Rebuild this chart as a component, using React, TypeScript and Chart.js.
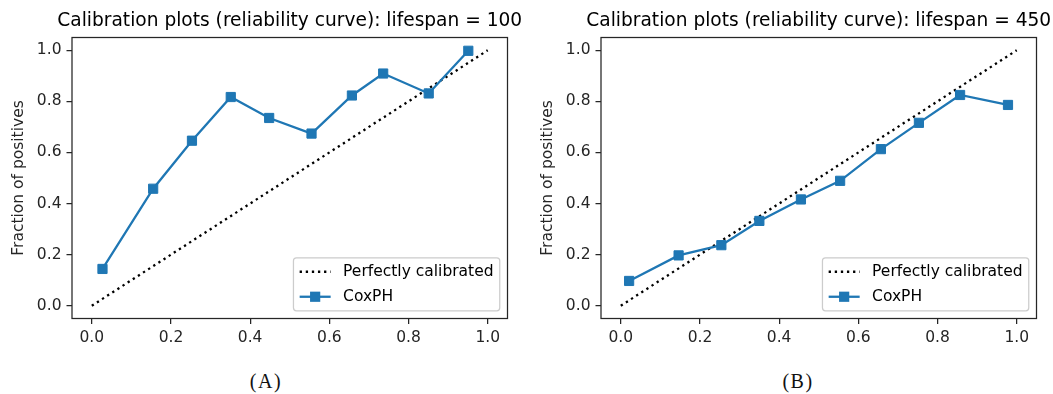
import React, { useEffect, useRef } from "react";
import { Chart, registerables } from "chart.js";

Chart.register(...registerables);

// Shared axis ticks and reference diagonal
const tickValues = [0, 0.2, 0.4, 0.6, 0.8, 1.0];
const diagonal = [0, 1];

// Panel A: lifespan = 100
const titleA = "Calibration plots (reliability curve): lifespan = 100";
const meanPredictedA = [0.027, 0.155, 0.253, 0.351, 0.448, 0.555, 0.657, 0.736, 0.851, 0.951];
const fractionPositivesA = [0.144, 0.458, 0.646, 0.817, 0.735, 0.674, 0.823, 0.909, 0.831, 0.998];

// Panel B: lifespan = 450
const titleB = "Calibration plots (reliability curve): lifespan = 450";
const meanPredictedB = [0.021, 0.146, 0.254, 0.35, 0.455, 0.554, 0.657, 0.753, 0.857, 0.978];
const fractionPositivesB = [0.097, 0.197, 0.237, 0.332, 0.416, 0.489, 0.613, 0.716, 0.825, 0.786];

const seriesLabel = "CoxPH";
const referenceLabel = "Perfectly calibrated";
const yAxisLabel = "Fraction of positives";

const BLUE = "#1f77b4";
const INK = "#262626";
const FONT = "DejaVu Sans";
const FONT_SIZE = 15.5;
const TITLE_SIZE = 18.6;
const LINE_W = 2.3;
const DOTS = [2.3, 3.8];

const CANVAS_W = 529;
const CANVAS_H = 350;
const PLOT_RIGHT = 507.5;

// Draws the axes frame, the panel title and a matplotlib-style legend box.
const panelDecor = {
  id: "panelDecor",
  afterDraw(chart: any, _args: any, opts: any) {
    const { ctx, chartArea: a } = chart;
    ctx.save();

    ctx.strokeStyle = INK;
    ctx.lineWidth = 1.25;
    ctx.strokeRect(a.left, a.top, a.right - a.left, a.bottom - a.top);

    ctx.fillStyle = "#000";
    ctx.font = `${TITLE_SIZE}px "${FONT}"`;
    ctx.textAlign = "center";
    ctx.textBaseline = "middle";
    ctx.fillText(opts.title, (a.left + a.right) / 2, opts.titleY);

    // legend
    const fs = FONT_SIZE;
    ctx.font = `${fs}px "${FONT}"`;
    const entries = [chart.data.datasets[1], chart.data.datasets[0]];
    const textW = Math.max(...entries.map((d: any) => ctx.measureText(d.label).width));
    const pad = 0.4 * fs;
    const handleLen = 2 * fs;
    const handleGap = 0.8 * fs;
    const boxW = pad + handleLen + handleGap + textW + pad;
    const boxH = 53;
    const right = a.right - 0.5 * fs;
    const bottom = a.bottom - 0.5 * fs;
    const left = right - boxW;
    const top = bottom - boxH;

    ctx.beginPath();
    ctx.roundRect(left, top, boxW, boxH, 3);
    ctx.fillStyle = "rgba(255,255,255,0.8)";
    ctx.fill();
    ctx.strokeStyle = "#cccccc";
    ctx.lineWidth = 1.25;
    ctx.stroke();

    const rowY = [top + 14, top + 39];
    entries.forEach((d: any, i: number) => {
      const y = rowY[i];
      const hx0 = left + pad;
      const hx1 = hx0 + handleLen;
      ctx.beginPath();
      ctx.setLineDash(d.borderDash || []);
      ctx.strokeStyle = d.borderColor;
      ctx.lineWidth = d.borderWidth;
      ctx.moveTo(hx0, y);
      ctx.lineTo(hx1, y);
      ctx.stroke();
      ctx.setLineDash([]);
      if (d.pointRadius > 0) {
        const s = 2 * Math.SQRT1_2 * d.pointRadius + d.pointBorderWidth;
        ctx.fillStyle = d.pointBackgroundColor;
        ctx.fillRect((hx0 + hx1) / 2 - s / 2, y - s / 2, s, s);
      }
      ctx.fillStyle = "#000";
      ctx.textAlign = "left";
      ctx.textBaseline = "middle";
      ctx.fillText(d.label, hx1 + handleGap, y);
    });

    ctx.restore();
  },
};

type PanelProps = { title: string; xs: number[]; ys: number[]; left: number };

function CalibrationPanel({ title, xs, ys, left }: PanelProps) {
  const ref = useRef<HTMLCanvasElement>(null);

  useEffect(() => {
    const canvas = ref.current;
    if (!canvas) return;
    const tickFont = { family: FONT, size: FONT_SIZE };
    const fmt = (v: any) => Number(v).toFixed(1);
    const setTicks = (s: any) => {
      s.ticks = tickValues.map((value) => ({ value }));
    };

    const chart = new Chart(canvas, {
      type: "line",
      data: {
        datasets: [
          {
            label: seriesLabel,
            data: xs.map((x, i) => ({ x, y: ys[i] })),
            borderColor: BLUE,
            backgroundColor: BLUE,
            borderWidth: LINE_W,
            pointStyle: "rect",
            pointRadius: 6.5,
            pointBorderWidth: 1,
            pointBackgroundColor: BLUE,
            pointBorderColor: BLUE,
            tension: 0,
            order: 0,
          } as any,
          {
            label: referenceLabel,
            data: diagonal.map((v) => ({ x: v, y: v })),
            borderColor: "#000",
            borderWidth: LINE_W,
            borderDash: DOTS,
            pointRadius: 0,
            tension: 0,
            order: 1,
          } as any,
        ],
      },
      options: {
        responsive: false,
        animation: false,
        events: [],
        layout: { padding: { top: 37.5, right: CANVAS_W - PLOT_RIGHT, bottom: 0, left: 0 } },
        plugins: {
          legend: { display: false },
          title: { display: false },
          tooltip: { enabled: false },
          panelDecor: { title, titleY: 21 },
        } as any,
        scales: {
          x: {
            type: "linear",
            min: -0.05,
            max: 1.05,
            afterBuildTicks: setTicks,
            afterFit: (s: any) => {
              s.height = 31.5;
            },
            border: { display: false },
            grid: { drawOnChartArea: false, drawTicks: true, tickLength: 5.5, color: INK, lineWidth: 1.25 },
            ticks: { padding: 5, color: INK, font: tickFont, callback: fmt, maxRotation: 0 },
          },
          y: {
            type: "linear",
            min: -0.05,
            max: 1.05,
            afterBuildTicks: setTicks,
            afterFit: (s: any) => {
              s.width = 72;
            },
            border: { display: false },
            grid: { drawOnChartArea: false, drawTicks: true, tickLength: 5.5, color: INK, lineWidth: 1.25 },
            ticks: { padding: 5, color: INK, font: tickFont, callback: fmt },
            title: {
              display: true,
              text: yAxisLabel,
              color: INK,
              font: tickFont,
              padding: { top: 10, bottom: 0 },
            },
          },
        },
      } as any,
      plugins: [panelDecor as any],
    });

    return () => chart.destroy();
  }, [title, xs, ys]);

  return (
    <canvas
      ref={ref}
      width={CANVAS_W}
      height={CANVAS_H}
      style={{ position: "absolute", left, top: 0, width: CANVAS_W, height: CANVAS_H }}
    />
  );
}

const captionStyle: React.CSSProperties = {
  position: "absolute",
  top: 370,
  width: 80,
  textAlign: "center",
  fontFamily: '"Liberation Serif", "DejaVu Serif", serif',
  fontSize: 20,
  letterSpacing: 1.5,
  lineHeight: "22px",
  color: "#111",
};

export default function App() {
  return (
    <div
      style={{
        position: "fixed",
        left: 0,
        top: 0,
        width: 1053,
        height: 394,
        background: "#fff",
        overflow: "hidden",
      }}
    >
      <CalibrationPanel title={titleA} xs={meanPredictedA} ys={fractionPositivesA} left={0} />
      <CalibrationPanel title={titleB} xs={meanPredictedB} ys={fractionPositivesB} left={529} />
      <div style={{ ...captionStyle, left: 266 - 40 }}>(A)</div>
      <div style={{ ...captionStyle, left: 798 - 40 }}>(B)</div>
    </div>
  );
}
